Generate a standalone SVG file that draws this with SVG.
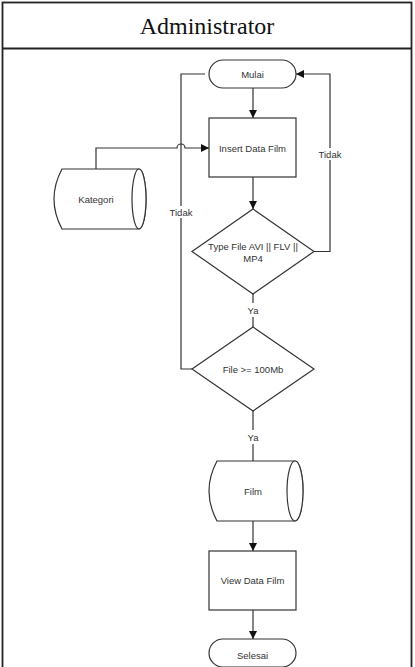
<svg xmlns="http://www.w3.org/2000/svg" width="415" height="667" viewBox="0 0 415 667">
<style>
.s{fill:#fff;stroke:#333;stroke-width:1.2}
.c{fill:none;stroke:#333;stroke-width:1.2}
.t{font-family:"Liberation Sans",Arial,sans-serif;font-size:9.5px;fill:#333;text-anchor:middle;dominant-baseline:central}
.h{font-family:"Liberation Serif","Times New Roman",serif;font-size:24px;fill:#111;text-anchor:middle}
</style>
<defs>
<marker id="a" viewBox="0 0 10 10" refX="10" refY="5" markerWidth="8" markerHeight="8" markerUnits="userSpaceOnUse" orient="auto"><path d="M0,0L10,5L0,10z" fill="#111"/></marker>
</defs>
<rect width="415" height="667" fill="#fff"/>
<g id="frame">
<rect x="2.5" y="2.5" width="409" height="670" fill="none" stroke="#222" stroke-width="1.8"/>
<line x1="2.5" y1="48.5" x2="411.5" y2="48.5" stroke="#222" stroke-width="1.8"/>
<text class="h" x="207" y="34">Administrator</text>
</g>
<g id="connectors">
<line class="c" x1="253" y1="88" x2="253" y2="118" marker-end="url(#a)"/>
<line class="c" x1="253" y1="177" x2="253" y2="209" marker-end="url(#a)"/>
<path class="c" d="M96,169V148H177A4,4 0 0 1 185,148H209" marker-end="url(#a)"/>
<path class="c" d="M314,251.5H330V74H296" marker-end="url(#a)"/>
<path class="c" d="M192,369H181V74H205"/>
<line class="c" x1="253" y1="294" x2="253" y2="303"/>
<line class="c" x1="253" y1="317" x2="253" y2="327"/>
<line class="c" x1="253" y1="411" x2="253" y2="430"/>
<line class="c" x1="253" y1="444" x2="253" y2="461"/>
<line class="c" x1="253" y1="521" x2="253" y2="551" marker-end="url(#a)"/>
<line class="c" x1="253" y1="610" x2="253" y2="639" marker-end="url(#a)"/>
<rect x="320" y="148" width="20" height="12" fill="#fff"/>
<text class="t" x="330" y="154">Tidak</text>
<rect x="171" y="206" width="20" height="12" fill="#fff"/>
<text class="t" x="181" y="212">Tidak</text>
<text class="t" x="253" y="310">Ya</text>
<text class="t" x="253" y="437">Ya</text>
</g>
<g id="mulai">
<rect class="s" x="209" y="60" width="87" height="28" rx="14"/>
<text class="t" x="252.5" y="74">Mulai</text>
</g>
<g id="insert">
<rect class="s" x="209" y="118" width="87" height="59"/>
<text class="t" x="252.5" y="148">Insert Data Film</text>
</g>
<g id="kategori">
<path class="s" d="M62,169H139A7,30 0 0 1 139,229H62Q46,199 62,169z"/>
<ellipse class="s" cx="139" cy="199" rx="7" ry="30"/>
<text class="t" x="96" y="199">Kategori</text>
</g>
<g id="typefile">
<path class="s" d="M253,209L314,251.5L253,294L192,251.5z"/>
<text class="t" x="253" y="246">Type File AVI || FLV ||</text>
<text class="t" x="253" y="258">MP4</text>
</g>
<g id="filesize">
<path class="s" d="M253,327L314,369L253,411L192,369z"/>
<text class="t" x="253" y="369">File &gt;= 100Mb</text>
</g>
<g id="film">
<path class="s" d="M217,461H295A8,30 0 0 1 295,521H217Q201,491 217,461z"/>
<ellipse class="s" cx="295" cy="491" rx="8" ry="30"/>
<text class="t" x="253" y="491">Film</text>
</g>
<g id="view">
<rect class="s" x="209" y="551" width="87" height="59"/>
<text class="t" x="252.5" y="580">View Data Film</text>
</g>
<g id="selesai">
<rect class="s" x="209" y="639" width="87" height="28" rx="14"/>
<text class="t" x="252.5" y="655">Selesai</text>
</g>
</svg>
